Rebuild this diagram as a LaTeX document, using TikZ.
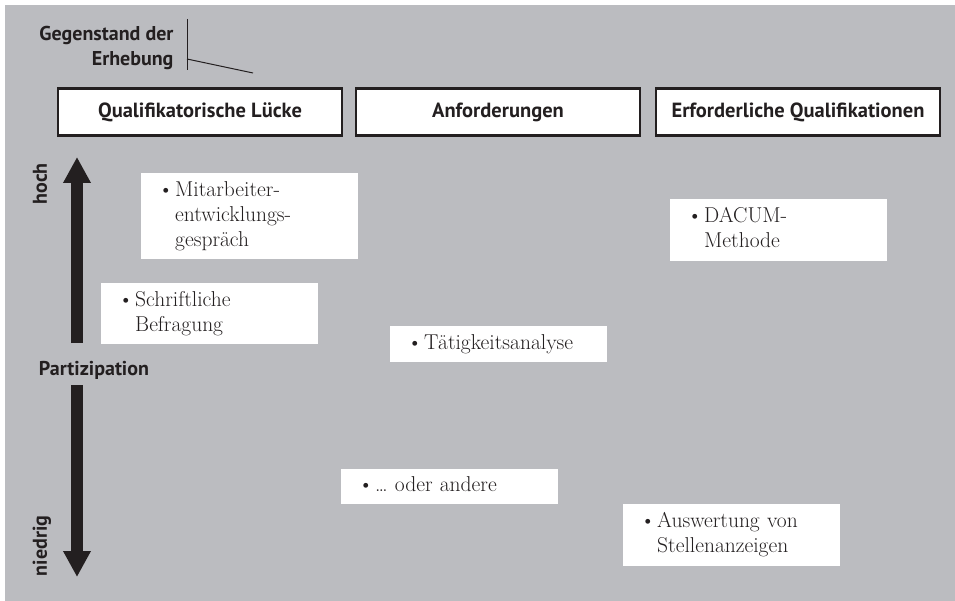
\documentclass[tikz,border=0pt]{standalone}
\usepackage{fontspec}
\newfontfamily\kopf{PT Sans}
\usepackage{tikz}
\usetikzlibrary{arrows.meta,positioning}
\definecolor{hgrau}{RGB}{187,188,192}
\definecolor{tinte}{HTML}{231F20}

\tikzset{
  kopfbox/.style={draw=tinte, line width=2.5pt, fill=white, minimum width=284pt,
    minimum height=47pt, text=tinte, font=\kopf\bfseries\fontsize{20.5}{24}\selectfont},
  eintrag/.style={fill=white, anchor=north west, text width=217pt, inner xsep=0pt,
    align=left, text=tinte, font=\fontsize{21.5}{25}\selectfont},
  achse/.style={text=tinte, font=\kopf\bfseries\fontsize{20}{25}\selectfont},
  pfeil/.style={tinte, line width=12pt, -{Triangle[width=26pt,length=26pt]}}
}
\newcommand{\punkt}[1]{\hspace*{17pt}\makebox[17pt][l]{\textbullet}%
  \begin{tabular}[t]{@{}l@{}}#1\end{tabular}}

\begin{document}
\begin{tikzpicture}[x=1pt,y=-1pt]
\useasboundingbox (0,0) rectangle (955,601);

% Hintergrund
\fill[hgrau] (5,5) rectangle (955,601);

% Kopfzeile
\node[achse, align=right, anchor=east] (gegenstand) at (177,48) {Gegenstand der\\Erhebung};
\coordinate (trennoben) at (187,19);
\coordinate (trennunten) at (187,70);
\coordinate (trennknick) at (187,59);
\coordinate (trennende) at (253,73);
\draw[tinte, line width=1pt] (trennoben) -- (trennunten);
\draw[tinte, line width=1pt] (trennknick) -- (trennende);

\node[kopfbox] (luecke) at (200,112) {Qualifikatorische Lücke};
\node[kopfbox] (anford) at (498,112) {Anforderungen};
\node[kopfbox] (qualif) at (798,112) {Erforderliche Qualifikationen};

% Achse Partizipation
\node[achse] (part) at (94,370) {Partizipation};
\node[achse, rotate=90] (hoch) at (40,184) {hoch};
\node[achse, rotate=90] (niedrig) at (42,546) {niedrig};

\coordinate (hochfuss) at (77,343);
\coordinate (hochspitze) at (77,157);
\coordinate (niedrigfuss) at (77,385);
\coordinate (niedrigspitze) at (77,577);
\draw[pfeil] (hochfuss) -- (hochspitze);
\draw[pfeil] (niedrigfuss) -- (niedrigspitze);

% Methoden
\node[eintrag, minimum height=86pt] (gespraech) at (141,173)
  {\punkt{Mitarbeiter-\\entwicklungs-\\gespräch}};
\node[eintrag, minimum height=61pt] (befragung) at (101,283)
  {\punkt{Schriftliche\\Befragung}};
\node[eintrag, minimum height=36pt] (taetigkeit) at (390,326)
  {\punkt{Tätigkeitsanalyse}};
\node[eintrag, minimum height=62pt] (dacum) at (670,199)
  {\punkt{DACUM-\\Methode}};
\node[eintrag, minimum height=35pt] (andere) at (341,469)
  {\punkt{\dots\ oder andere}};
\node[eintrag, minimum height=62pt] (stellen) at (623,504)
  {\punkt{Auswertung von\\Stellenanzeigen}};
\end{tikzpicture}
\end{document}
